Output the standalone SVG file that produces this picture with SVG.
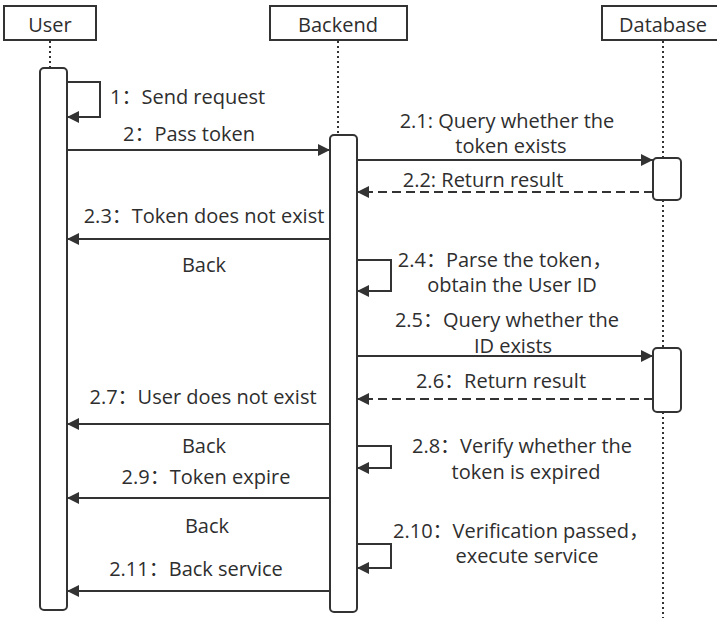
<svg xmlns="http://www.w3.org/2000/svg" width="717" height="618" viewBox="0 0 717 618">
  <style>
    .head { fill: #fff; stroke: #333; stroke-width: 2; }
    .act { fill: #fff; stroke: #333; stroke-width: 2; }
    .life { fill: none; stroke: #333; stroke-width: 2; stroke-dasharray: 2 3; }
    .msg { fill: none; stroke: #333; stroke-width: 2; marker-end: url(#arrow); }
    .ret { stroke-dasharray: 9 5; }
    text { font-family: "Open Sans", "Noto Sans CJK SC", sans-serif; font-size: 20px; fill: #2e2e2e; text-anchor: middle; }
    .l { text-anchor: start; }
  </style>
  <defs>
    <marker id="arrow" markerUnits="userSpaceOnUse" markerWidth="13" markerHeight="12" refX="12" refY="6" orient="auto">
      <path d="M0,0 L12,6 L0,12 Z" fill="#333"/>
    </marker>
  </defs>

  <rect width="717" height="618" fill="#fff"/>

  <!-- lifelines -->
  <g id="lifelines">
    <line class="life" x1="50" y1="41" x2="50" y2="68"/>
    <line class="life" x1="338" y1="41" x2="338" y2="135"/>
    <line class="life" x1="663" y1="41" x2="663" y2="158"/>
    <line class="life" x1="663" y1="200" x2="663" y2="348"/>
    <line class="life" x1="663" y1="412" x2="663" y2="618"/>
  </g>

  <!-- participants -->
  <g id="user">
    <rect class="head" x="4" y="6" width="92" height="34"/>
    <text x="50" y="32">User</text>
    <rect class="act" x="40" y="68" width="27" height="542" rx="4"/>
  </g>
  <g id="backend">
    <rect class="head" x="270" y="6" width="137" height="34"/>
    <text x="338" y="32">Backend</text>
    <rect class="act" x="330" y="135" width="27" height="477" rx="4"/>
  </g>
  <g id="database">
    <rect class="head" x="602" y="6" width="122" height="34"/>
    <text x="663" y="32">Database</text>
    <rect class="act" x="653" y="158" width="28" height="42" rx="4"/>
    <rect class="act" x="653" y="348" width="28" height="64" rx="4"/>
  </g>

  <!-- messages -->
  <g id="connectors">
    <path class="msg" d="M67,82 H100 V117 H67"/>
    <path class="msg" d="M67,150 H330"/>
    <path class="msg" d="M357,160 H653"/>
    <path class="msg ret" d="M653,192 H357"/>
    <path class="msg" d="M330,239 H67"/>
    <path class="msg" d="M357,260 H391 V291 H357"/>
    <path class="msg" d="M357,356 H653"/>
    <path class="msg ret" d="M653,399 H357"/>
    <path class="msg" d="M330,424 H67"/>
    <path class="msg" d="M357,446 H391 V468 H357"/>
    <path class="msg" d="M330,498 H67"/>
    <path class="msg" d="M357,544 H391 V568 H357"/>
    <path class="msg" d="M330,591 H67"/>
  </g>

  <!-- message labels -->
  <g id="labels">
    <text class="l" x="110" y="104">1：Send request</text>
    <text x="189" y="141">2：Pass token</text>
    <text x="507" y="128">2.1: Query whether the</text>
    <text x="511" y="153">token exists</text>
    <text x="483" y="187">2.2: Return result</text>
    <text x="204" y="223">2.3：Token does not exist</text>
    <text x="204" y="272">Back</text>
    <text x="505" y="267">2.4：Parse the token，</text>
    <text x="512" y="292">obtain the User ID</text>
    <text x="507" y="327">2.5：Query whether the</text>
    <text x="513" y="353">ID exists</text>
    <text x="501" y="388">2.6：Return result</text>
    <text x="203" y="404">2.7：User does not exist</text>
    <text x="204" y="453">Back</text>
    <text x="522" y="453">2.8：Verify whether the</text>
    <text x="526" y="479">token is expired</text>
    <text x="206" y="484">2.9：Token expire</text>
    <text x="207" y="533">Back</text>
    <text x="521" y="538">2.10：Verification passed，</text>
    <text x="527" y="563">execute service</text>
    <text x="196" y="576">2.11：Back service</text>
  </g>
</svg>
